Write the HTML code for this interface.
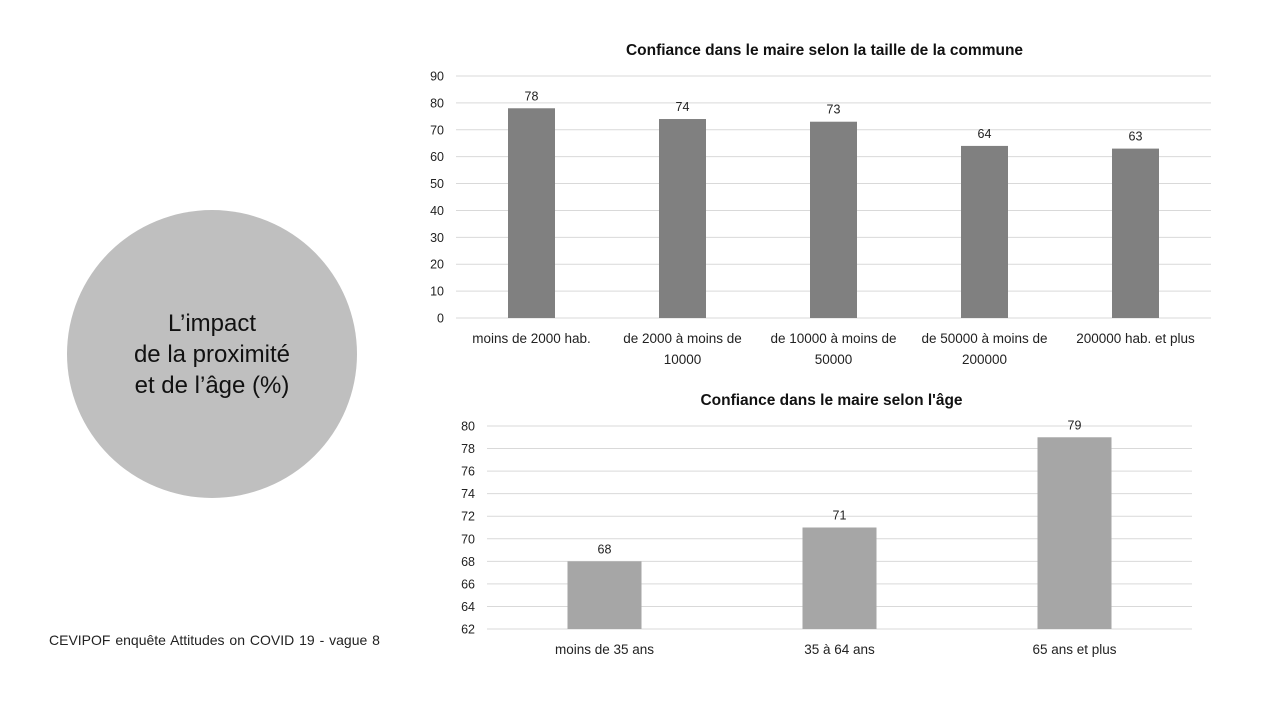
<!DOCTYPE html>
<html><head><meta charset="utf-8"><style>
body{margin:0;width:1280px;height:720px;background:#fff;font-family:"Liberation Sans",sans-serif;overflow:hidden;position:relative}
#circle{position:absolute;left:67px;top:210px;width:290px;height:288px;border-radius:50%;background:#bfbfbf;display:flex;align-items:center;justify-content:center;text-align:center;font-size:24px;line-height:31px;color:#111}
#src{position:absolute;left:49px;top:632px;font-size:14px;color:#222;word-spacing:1px}
svg{position:absolute;left:0;top:0}
</style></head><body>
<div id="circle">L’impact<br>de la proximité<br>et de l’âge (%)</div>
<div id="src">CEVIPOF enquête Attitudes on COVID 19 - vague 8</div>
<svg id="s" width="1280" height="720"></svg>
<script>
const cats1=["moins de 2000 hab.","de 2000 à moins de|10000","de 10000 à moins de|50000","de 50000 à moins de|200000","200000 hab.  et plus"];
const vals1=[78,74,73,64,63];
const ticks1=[0,10,20,30,40,50,60,70,80,90];
const cats2=["moins de 35 ans","35 à 64 ans","65 ans et plus"];
const vals2=[68,71,79];
const ticks2=[62,64,66,68,70,72,74,76,78,80];
const svg=document.getElementById('s');
const NS='http://www.w3.org/2000/svg';
function mk(t,a,txt){const e=document.createElementNS(NS,t);for(const k in a)e.setAttribute(k,a[k]);if(txt!=null)e.textContent=txt;svg.appendChild(e);return e;}
function chart(o){
  const y=v=>o.y0-(v-o.vmin)/(o.vmax-o.vmin)*(o.y0-o.y1);
  const band=(o.x1-o.x0)/o.cats.length;
  const t=mk('text',{x:(o.x0+o.x1)/2-(o.tdx||0),y:o.ty,'text-anchor':'middle','font-size':15.5,'font-weight':'bold',fill:'#111'},o.title);
  
  o.ticks.forEach(v=>{
    const l=mk('line',{x1:o.x0,x2:o.x1,y1:y(v),y2:y(v),stroke:'#d9d9d9','stroke-width':1});
    
    const tx=mk('text',{x:o.x0-12,y:y(v)+4.5,'text-anchor':'end','font-size':12.5,fill:'#222'},v);
    
  });
  o.vals.forEach((v,i)=>{
    const cx=o.x0+band*(i+0.5);
    const r=mk('rect',{x:cx-o.bw/2,y:y(v),width:o.bw,height:o.y0-y(v),fill:o.color});
    
    const lb=mk('text',{x:cx,y:y(v)-8,'text-anchor':'middle','font-size':12.5,fill:'#222'},v);
    
    o.cats[i].split('|').forEach((s,j)=>{
      const c=mk('text',{x:cx,y:o.y0+25+j*21,'text-anchor':'middle','font-size':13.5,fill:'#222'},s);
      
    });
  });
}
chart({name:'commune-chart',title:'Confiance dans le maire selon la taille de la commune',cats:cats1,vals:vals1,ticks:ticks1,vmin:0,vmax:90,x0:456,x1:1211,y0:318,y1:76,bw:47,color:'#808080',ty:55,tdx:9});
chart({name:'age-chart',title:"Confiance dans le maire selon l'âge",cats:cats2,vals:vals2,ticks:ticks2,vmin:62,vmax:80,x0:487,x1:1192,y0:629,y1:426,bw:74,color:'#a6a6a6',ty:405,tdx:8});
</script>
</body></html>
